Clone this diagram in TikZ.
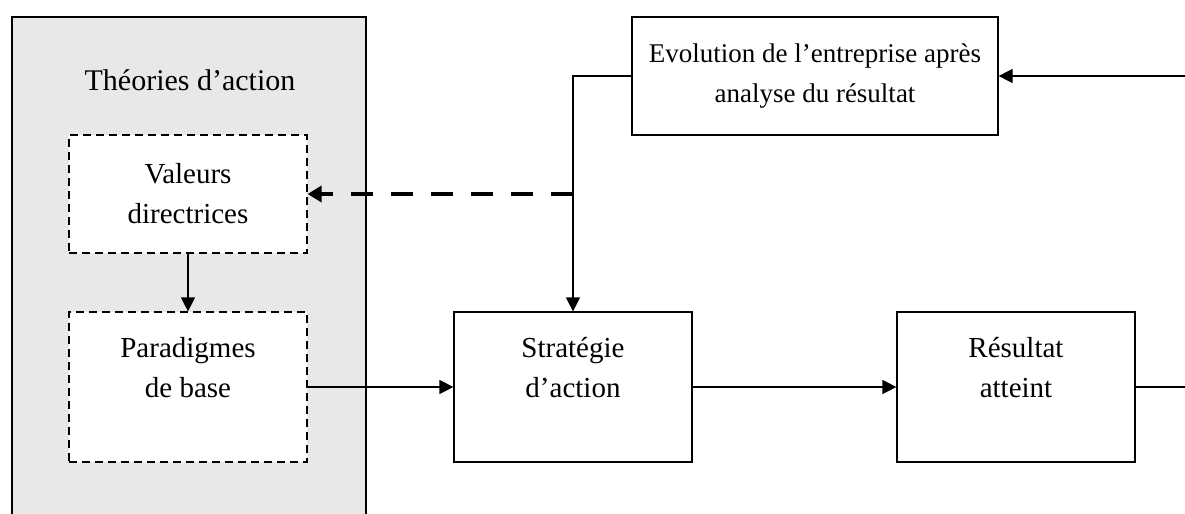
\documentclass[tikz,border=0pt]{standalone}
\usepackage{fontspec}
\setmainfont{Liberation Serif}
\usetikzlibrary{arrows.meta}
\tikzset{
  box/.style={draw, line width=0.6pt, fill=white, align=center, inner sep=0pt,
    minimum width=119pt, font=\fontsize{14.5}{20}\selectfont},
  dbox/.style={box, dash pattern=on 4pt off 2.5pt},
  link/.style={draw, line width=0.6pt, -{Triangle[length=7pt,width=7pt]}},
}

\begin{document}
\begin{tikzpicture}[x=0.5pt,y=-0.5pt]
\useasboundingbox (0,0) rectangle (1185,514);
\clip (0,0) rectangle (1185,514);
% cadre gris
\draw[fill=gray!18, line width=0.6pt] (12,17) rectangle (366,540);
\node[font=\fontsize{15}{20}\selectfont] (titre) at (190,80) {Théories d’action};
% boites
\node[dbox, minimum height=59pt] (val) at (188,194) {Valeurs\\directrices};
\node[dbox, minimum height=75pt] (para) at (188,387) {Paradigmes\\de base\\~};
\node[box, minimum height=75pt] (strat) at (573,387) {Stratégie\\d’action\\~};
\node[box, minimum height=75pt] (res) at (1016,387) {Résultat\\atteint\\~};
\node[box, minimum width=183pt, minimum height=59pt, font=\fontsize{13.5}{20}\selectfont]
  (evo) at (815,76) {Evolution de l’entreprise après\\analyse du résultat};
% bords libres
\coordinate (inR) at (1195,76);
\coordinate (outR) at (1195,387);
\coordinate (split) at (strat.north |- val.east);
% liaisons
\draw[link] (val) -- (para);
\draw[link] (para) -- (strat);
\draw[link] (strat) -- (res);
\draw[line width=0.6pt] (res) -- (outR);
\draw[link] (inR) -- (evo);
\draw[link] (evo.west) -| (strat.north);
\draw[line width=2pt, dash pattern=on 11pt off 9pt, -{Triangle[length=7pt,width=8pt]}]
  (split) -- (val.east);
\end{tikzpicture}
\end{document}
